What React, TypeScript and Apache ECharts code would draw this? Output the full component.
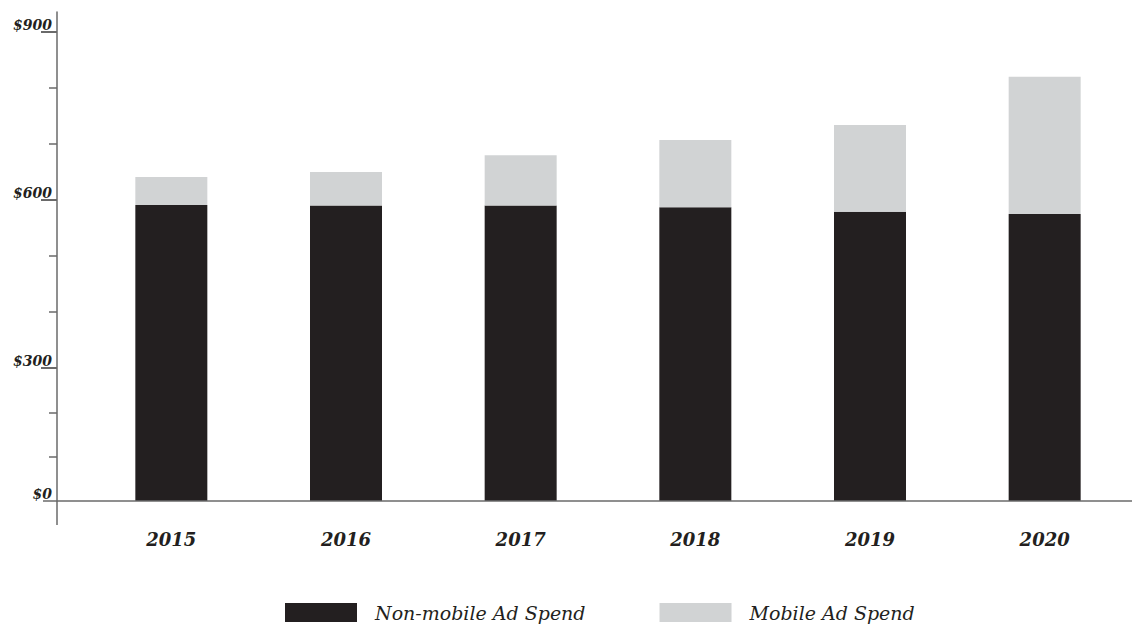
import React, { useEffect, useRef } from "react";
import * as echarts from "echarts";

// Categories and series values (US$)
const years = ["2015", "2016", "2017", "2018", "2019", "2020"];
const nonMobileAdSpend = [591, 590, 590, 587, 579, 575];
const mobileAdSpend = [50, 60, 90, 120, 155, 245];

// Tick values. The original axis is compressed below $300: its "$0" baseline
// sits where 62.5 would fall on the scale set by the $300/$600/$900 ticks.
const axisBase = 62.5;
const majorTicks = [300, 600, 900];
const minorTicks = [141.67, 220.83, 400, 500, 700, 800];
const labelTicks = [axisBase, 300, 600, 900];
const axisTop = 935.7;

const SERIF = "'DejaVu Serif', 'Liberation Serif', serif";
const AXIS_COLOR = "#6a6a6a";

export default function App() {
  const ref = useRef<HTMLDivElement>(null);
  useEffect(() => {
    if (!ref.current) return;
    const chart = echarts.init(ref.current, null, { renderer: "svg" });
    const gridLeft = 84;
    const yOffset = 27;
    const option: any = {
      animation: false,
      backgroundColor: "#ffffff",
      grid: { left: gridLeft, right: 0, top: 12, bottom: 124, containLabel: false },
      legend: {
        left: 280,
        top: 598,
        itemWidth: 72,
        itemHeight: 19,
        itemGap: 74,
        icon: "rect",
        data: ["Non-mobile Ad Spend", "Mobile Ad Spend"],
        textStyle: {
          fontFamily: SERIF,
          fontStyle: "italic",
          fontSize: 19,
          color: "#231f20",
          padding: [0, 0, 0, 13],
        },
      },
      xAxis: {
        type: "category",
        data: years,
        axisLine: { show: false },
        axisTick: { show: false },
        axisLabel: {
          margin: 29,
          fontFamily: SERIF,
          fontStyle: "italic",
          fontWeight: "bold",
          fontSize: 18,
          color: "#231f20",
        },
      },
      yAxis: [
        {
          type: "value",
          min: axisBase,
          max: axisTop,
          offset: yOffset,
          position: "left",
          splitLine: { show: false },
          axisLine: { show: true, lineStyle: { color: AXIS_COLOR, width: 1.5 } },
          axisTick: {
            show: true,
            customValues: majorTicks,
            length: 16,
            lineStyle: { color: AXIS_COLOR, width: 2 },
          },
          axisLabel: {
            customValues: labelTicks,
            margin: 5,
            verticalAlign: "bottom",
            fontFamily: SERIF,
            fontStyle: "italic",
            fontWeight: "bold",
            fontSize: 14,
            color: "#231f20",
            formatter: (v: number) => (v === axisBase ? "$0" : "$" + Math.round(v)),
          },
        },
        {
          type: "value",
          min: axisBase,
          max: axisTop,
          offset: yOffset,
          position: "left",
          splitLine: { show: false },
          axisLine: { show: false },
          axisLabel: { show: false },
          axisTick: {
            show: true,
            customValues: minorTicks,
            length: 8,
            lineStyle: { color: AXIS_COLOR, width: 1.5 },
          },
        },
      ],
      series: [
        {
          name: "Non-mobile Ad Spend",
          type: "bar",
          stack: "total",
          barWidth: 72,
          yAxisIndex: 0,
          itemStyle: { color: "#231f20" },
          data: nonMobileAdSpend,
        },
        {
          name: "Mobile Ad Spend",
          type: "bar",
          stack: "total",
          barWidth: 72,
          yAxisIndex: 0,
          itemStyle: { color: "#d1d3d4" },
          data: mobileAdSpend,
        },
      ],
    };
    chart.setOption(option);

    // Decorative axis lines: baseline (extending left of the y-axis) and the
    // y-axis stub below the baseline.
    const baseY = chart.convertToPixel({ yAxisIndex: 0 }, axisBase) as number;
    const axisX = gridLeft - yOffset;
    const width = chart.getWidth();
    chart.setOption({
      graphic: [
        {
          type: "line",
          shape: { x1: axisX - 14, y1: baseY, x2: width, y2: baseY },
          style: { stroke: AXIS_COLOR, lineWidth: 1.5 },
          z: 10,
        },
        {
          type: "line",
          shape: { x1: axisX, y1: baseY, x2: axisX, y2: baseY + 24 },
          style: { stroke: AXIS_COLOR, lineWidth: 1.5 },
          z: 10,
        },
      ],
    });

    return () => chart.dispose();
  }, []);
  return (
    <div
      ref={ref}
      style={{ position: "fixed", left: 0, top: 0, width: 1132, height: 625 }}
    />
  );
}
